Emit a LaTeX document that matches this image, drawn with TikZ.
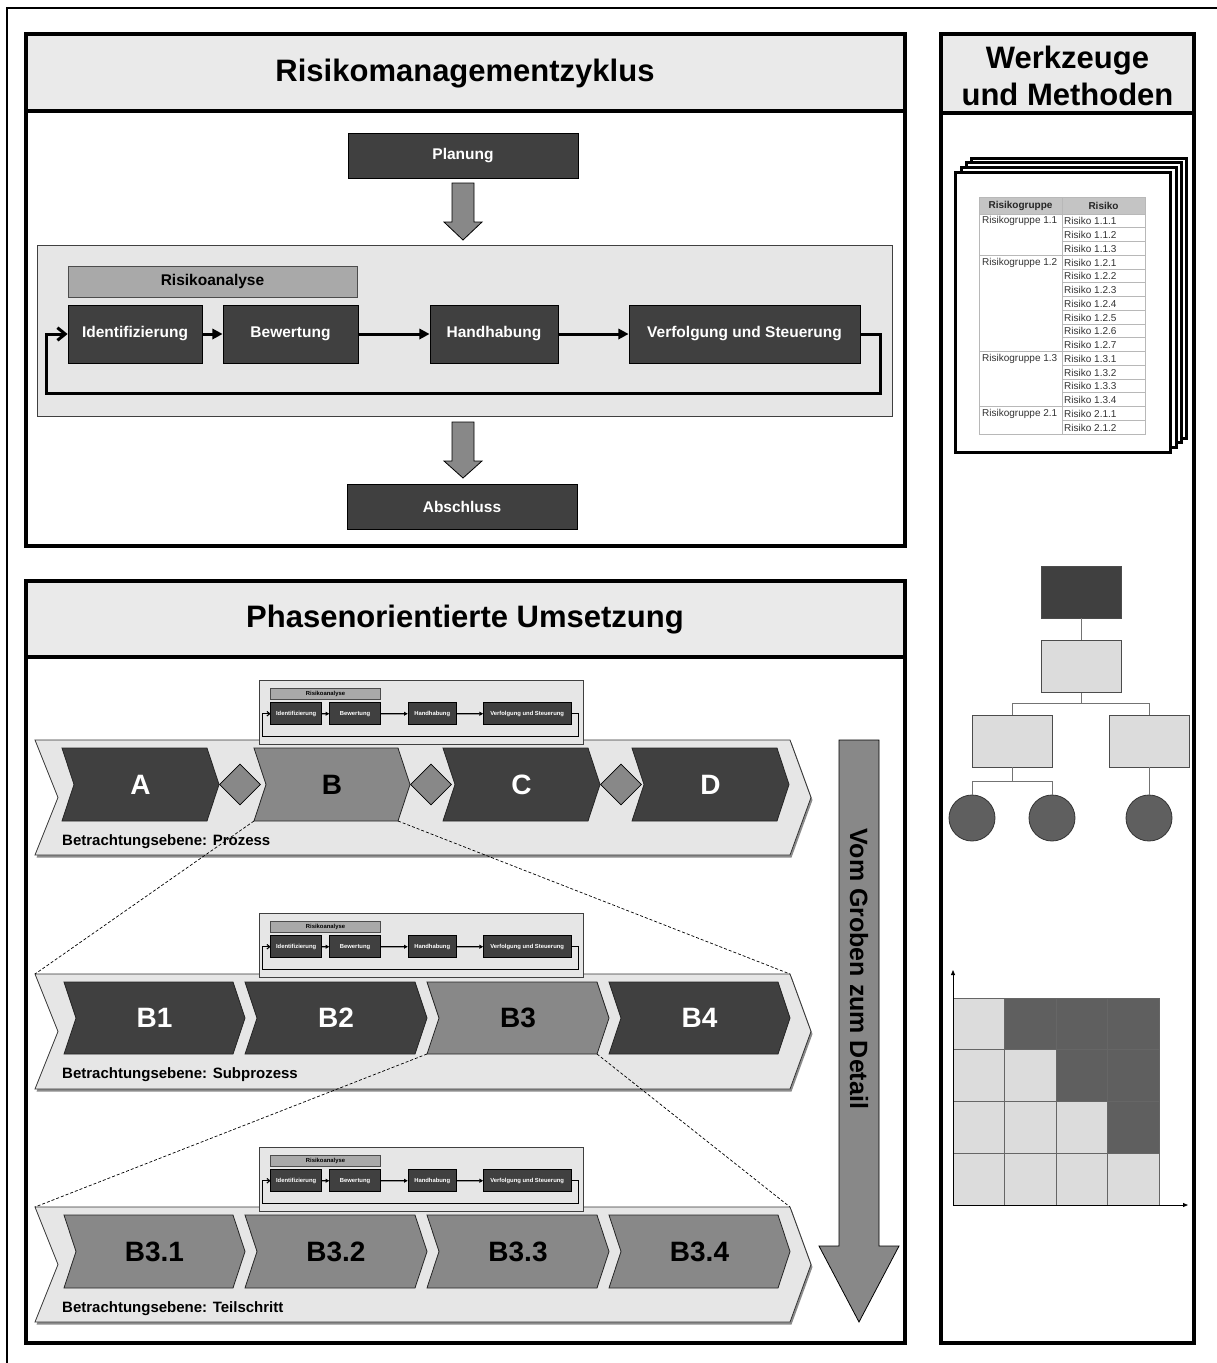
\documentclass[tikz,border=0pt]{standalone}
\usepackage{fontspec}
\setmainfont{Liberation Sans}
\usetikzlibrary{arrows.meta,shapes.geometric}

\definecolor{boxdark}{HTML}{404040}
\definecolor{boxmid}{HTML}{888888}
\definecolor{bandfill}{HTML}{E6E6E6}
\definecolor{barfill}{HTML}{EAEAEA}
\definecolor{rafill}{HTML}{A9A9A9}
\definecolor{treelightfill}{HTML}{DCDCDC}
\definecolor{circfill}{HTML}{5F5F5F}
\definecolor{gridline}{HTML}{B8B8B8}
\definecolor{headfill}{HTML}{C4C4C4}

\newcommand\fsz[1]{\fontsize{#1}{#1}\selectfont}

\tikzset{
  panelframe/.style={draw=black, line width=4pt},
  titlebar/.style={fill=barfill, draw=black, line width=4pt},
  paneltitle/.style={font=\fsz{31}\bfseries, text=black, align=center},
  darkbox/.style={draw=black, line width=0.8pt, fill=boxdark, text=white,
    font=\fsz{15.5}\bfseries, inner sep=0pt},
  cyclebg/.style={draw=black!75, line width=0.8pt, fill=bandfill, inner sep=0pt},
  rabar/.style={draw=black!70, line width=0.8pt, fill=rafill, text=black,
    font=\fsz{15.5}\bfseries, inner sep=0pt},
  blockarrow/.style={draw=black, line width=0.8pt, fill=boxmid},
  bandshape/.style={draw=black!80, line width=0.8pt, fill=bandfill},
  bandshadow/.style={fill=black!45},
  chevshape/.style={draw=black!85, line width=0.8pt},
  chevtext/.style={font=\fsz{28}\bfseries, inner sep=0pt},
  gate/.style={diamond, draw=black, line width=0.8pt, fill=boxmid,
    minimum width=41, minimum height=41, inner sep=0pt},
  levellabel/.style={font=\fsz{15}\bfseries, anchor=west, inner sep=0pt},
  zoomline/.style={line width=0.7pt, dash pattern=on 3pt off 2pt},
  docpage/.style={draw=black, line width=3pt, fill=white},
  tabcell/.style={draw=gridline, line width=0.6pt},
  tabtext/.style={font=\fsz{10}, text=black!80, inner sep=0pt},
  tabhead/.style={font=\fsz{10}\bfseries, text=black!85, inner sep=0pt},
  treebox/.style={draw=black!70, line width=0.8pt, minimum width=80,
    minimum height=52, inner sep=0pt},
  treeline/.style={draw=black!55, line width=1pt},
  leafnode/.style={circle, draw=black!80, line width=0.8pt, fill=circfill,
    minimum size=46, inner sep=0pt},
  cellbox/.style={draw=black!60, line width=0.8pt},
  axisline/.style={line width=0.8pt, -{Triangle[length=5pt,width=4pt]}},
}

% risk-analysis cycle in local coordinates (origin = top-left corner of its frame)
\newcommand\riskcycle[1]{%
  \node[cyclebg, minimum width=855, minimum height=171] (frame) at (427.5,85.5) {};
  \node[rabar, minimum width=289, minimum height=31] (ra) at (175.5,36.5) {Risikoanalyse};
  \node[darkbox, minimum width=134, minimum height=58] (id) at (98,89) {Identifizierung};
  \node[darkbox, minimum width=135, minimum height=58] (bw) at (253.5,89) {Bewertung};
  \node[darkbox, minimum width=128, minimum height=58] (hh) at (457,89) {Handhabung};
  \node[darkbox, minimum width=231, minimum height=58] (vs) at (707.5,89) {Verfolgung und Steuerung};
  \coordinate (lr) at (843,148);
  \coordinate (ll) at (9,148);
  \draw[line width=#1, -{Triangle[length=0pt 3.4, width=0pt 3.4]}] (id) -- (bw);
  \draw[line width=#1, -{Triangle[length=0pt 3.4, width=0pt 3.4]}] (bw) -- (hh);
  \draw[line width=#1, -{Triangle[length=0pt 3.4, width=0pt 3.4]}] (hh) -- (vs);
  \draw[line width=#1, -{Straight Barb[length=0pt 2.6, width=0pt 4.2]}]
    (vs.east) -| (lr) -- (ll) |- (id.west);
}

% background band of one process level
\newcommand\band[3]{%
  \fill[bandshadow, shift={(1.5,2.5)}] (35,#2) -- (790,#2) -- (811,{(#2+#3)/2})
    -- (790,#3) -- (35,#3) -- (58,{(#2+#3)/2}) -- cycle;
  \draw[bandshape] (35,#2) -- (790,#2) -- (811,{(#2+#3)/2})
    -- (790,#3) -- (35,#3) -- (58,{(#2+#3)/2}) -- cycle;
  \coordinate (#1-tl) at (35,#2);
  \coordinate (#1-tr) at (790,#2);
}

% chevron: name, left, right, top, bottom, fill, text colour, label
\newcommand\chev[8]{%
  \draw[chevshape, fill=#6] (#2,#4) -- (#3,#4) -- ({#3+12},{(#4+#5)/2})
    -- (#3,#5) -- (#2,#5) -- ({#2+12},{(#4+#5)/2}) -- cycle;
  \node[chevtext, text=#7] (#1) at ({(#2+#3)/2+6},{(#4+#5)/2}) {#8};
  \coordinate (#1-bl) at (#2,#5);
  \coordinate (#1-br) at (#3,#5);
}

\begin{document}
\begin{tikzpicture}[x=1pt,y=-1pt]
\useasboundingbox (0,0) rectangle (1217,1363);
\fill[white] (0,0) rectangle (1217,1363);
\draw[line width=1.5pt] (7,1363) -- (7,8) -- (1217,8);

%% ---------------- Risikomanagementzyklus ----------------
\draw[titlebar] (26,34) rectangle (905,111);
\draw[panelframe] (26,34) rectangle (905,546);
\node[paneltitle] (t-zyklus) at (465,74) {Risikomanagementzyklus};

\node[darkbox, minimum width=230, minimum height=45] (plan) at (463,155.5) {Planung};
\draw[blockarrow] (452,183) -- (474,183) -- (474,222) -- (482,222) -- (463,240)
  -- (444,222) -- (452,222) -- cycle;

\begin{scope}[shift={(37,245)}, name prefix=c-]
  \riskcycle{3pt}
\end{scope}

\draw[blockarrow] (452,422) -- (474,422) -- (474,461) -- (482,461) -- (463,478)
  -- (444,461) -- (452,461) -- cycle;
\node[darkbox, minimum width=230, minimum height=45] (absch) at (462,506.5) {Abschluss};

%% ---------------- Phasenorientierte Umsetzung ----------------
\draw[titlebar] (26,581) rectangle (905,657);
\draw[panelframe] (26,581) rectangle (905,1343);
\node[paneltitle] (t-phasen) at (465,620) {Phasenorientierte Umsetzung};

% level bands
\band{band1}{740}{855}
\band{band2}{974}{1089}
\band{band3}{1207}{1322}

% small copies of the cycle above each level
\begin{scope}[shift={(259,680)}, scale=0.379, transform shape, name prefix=m1-]
  \riskcycle{1.1pt}
\end{scope}
\begin{scope}[shift={(259,913)}, scale=0.379, transform shape, name prefix=m2-]
  \riskcycle{1.1pt}
\end{scope}
\begin{scope}[shift={(259,1147)}, scale=0.379, transform shape, name prefix=m3-]
  \riskcycle{1.1pt}
\end{scope}

% level 1: process
\chev{A}{62}{207}{748}{821}{boxdark}{white}{A}
\chev{B}{254}{398}{748}{821}{boxmid}{black}{B}
\chev{C}{443}{588}{748}{821}{boxdark}{white}{C}
\chev{D}{632}{777}{748}{821}{boxdark}{white}{D}
\node[gate] (g1) at (240,784.5) {};
\node[gate] (g2) at (431,784.5) {};
\node[gate] (g3) at (621,784.5) {};
\node[levellabel] (lab1) at (62,842) {Betrachtungsebene: Prozess};

% level 2: subprocess
\chev{B1}{64}{233}{982}{1054}{boxdark}{white}{B1}
\chev{B2}{245}{415}{982}{1054}{boxdark}{white}{B2}
\chev{B3}{427}{597}{982}{1054}{boxmid}{black}{B3}
\chev{B4}{609}{778}{982}{1054}{boxdark}{white}{B4}
\node[levellabel] (lab2) at (62,1075) {Betrachtungsebene: Subprozess};

% level 3: sub-step
\chev{B31}{64}{233}{1215}{1288}{boxmid}{black}{B3.1}
\chev{B32}{245}{415}{1215}{1288}{boxmid}{black}{B3.2}
\chev{B33}{427}{597}{1215}{1288}{boxmid}{black}{B3.3}
\chev{B34}{609}{778}{1215}{1288}{boxmid}{black}{B3.4}
\node[levellabel] (lab3) at (62,1309) {Betrachtungsebene: Teilschritt};

% zoom lines between levels
\draw[zoomline] (B-bl) -- (band2-tl);
\draw[zoomline] (B-br) -- (band2-tr);
\draw[zoomline] (B3-bl) -- (band3-tl);
\draw[zoomline] (B3-br) -- (band3-tr);

% coarse-to-fine arrow
\draw[blockarrow] (839,740) -- (879,740) -- (879,1246) -- (899,1246) -- (859,1322)
  -- (819,1246) -- (839,1246) -- cycle;
\node[font=\fsz{25}\bfseries, rotate=-90, inner sep=0pt] (detail) at (859,969)
  {Vom Groben zum Detail};

%% ---------------- Werkzeuge und Methoden ----------------
\draw[titlebar] (941,34) rectangle (1194,113);
\draw[panelframe] (941,34) rectangle (1194,1343);
\node[paneltitle, font=\fontsize{31}{37}\selectfont\bfseries] (t-werkzeuge) at (1067.5,76)
  {Werkzeuge\\und Methoden};

% stack of risk lists
\foreach \dx/\dy in {16/-14, 11/-10, 6/-5, 0/0}
  \draw[docpage, shift={(\dx,\dy)}] (955,172) rectangle (1170,452);

\fill[headfill] (979,197) rectangle (1145,214);
\draw[tabcell] (979,197) rectangle (1062,214);
\draw[tabcell] (1062,197) rectangle (1145,214);
\node[tabhead] (h1) at (1020.5,205.5) {Risikogruppe};
\node[tabhead] (h2) at (1103.5,205.5) {Risiko};

\foreach \ytop/\ybot/\g in {214/255.25/1.1, 255.25/351.5/1.2, 351.5/406.5/1.3, 406.5/434/2.1} {
  \draw[tabcell] (979,\ytop) rectangle (1062,\ybot);
  \node[tabtext, anchor=north west] at (982,{\ytop+2.5}) {Risikogruppe \g};
}
\foreach \i/\r in {0/1.1.1, 1/1.1.2, 2/1.1.3, 3/1.2.1, 4/1.2.2, 5/1.2.3, 6/1.2.4,
  7/1.2.5, 8/1.2.6, 9/1.2.7, 10/1.3.1, 11/1.3.2, 12/1.3.3, 13/1.3.4, 14/2.1.1, 15/2.1.2} {
  \draw[tabcell] (1062,{214+13.75*\i}) rectangle (1145,{214+13.75*(\i+1)});
  \node[tabtext, anchor=west] at (1064,{214+13.75*\i+7.2}) {Risiko \r};
}

% hierarchy
\node[treebox, fill=boxdark] (t0) at (1081,592) {};
\node[treebox, fill=treelightfill] (t1) at (1081,666.5) {};
\node[treebox, fill=treelightfill] (t2) at (1012,741) {};
\node[treebox, fill=treelightfill] (t3) at (1149,741) {};
\node[leafnode] (c1) at (972,818) {};
\node[leafnode] (c2) at (1052,818) {};
\node[leafnode] (c3) at (1149,818) {};
\coordinate (j1) at (1081,703);
\coordinate (j2) at (1012,781);
\draw[treeline] (t0) -- (t1);
\draw[treeline] (t1.south) -- (j1) -| (t2.north);
\draw[treeline] (j1) -| (t3.north);
\draw[treeline] (t2.south) -- (j2) -| (c1.north);
\draw[treeline] (j2) -| (c2.north);
\draw[treeline] (t3) -- (c3);

% risk matrix
\foreach \r in {0,1,2,3} {
  \foreach \c in {0,1,2,3} {
    \ifnum\c>\r \def\cellcol{circfill}\else\def\cellcol{treelightfill}\fi
    \draw[cellbox, fill=\cellcol] ({953+51.5*\c},{998+51.75*\r}) rectangle ++(51.5,51.75);
  }
}
\coordinate (morig) at (953,1205);
\coordinate (mtop) at (953,970);
\coordinate (mright) at (1188,1205);
\draw[axisline] (morig) -- (mtop);
\draw[axisline] (morig) -- (mright);
\end{tikzpicture}
\end{document}
